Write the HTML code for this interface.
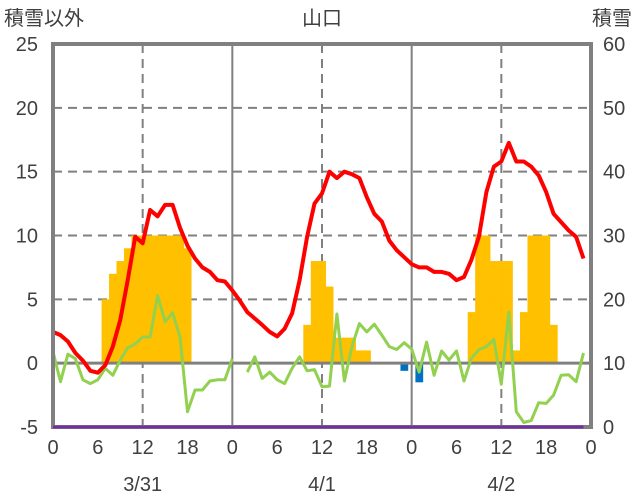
<!DOCTYPE html>
<html><head><meta charset="utf-8"><style>
html,body{margin:0;padding:0;background:#fff;}
svg{display:block;}
text{font-family:"Liberation Sans","Noto Sans CJK JP",sans-serif;fill:#404040;font-size:20px;}
</style></head><body>
<svg id="chart" width="636" height="501" viewBox="0 0 636 501" xmlns="http://www.w3.org/2000/svg">
<g id="grid"></g>
<g id="bars"></g>
<g id="lines"></g>
<g id="frame"></g>
<g id="labels">
<text x="4" y="25">積雪以外</text>
<text x="322" y="25" text-anchor="middle">山口</text>
<text x="632" y="25" text-anchor="end">積雪</text>
</g>
</svg>
<script>
const leftTicks=[-5,0,5,10,15,20,25];
const rightTicks=[0,10,20,30,40,50,60];
const hourTicks=["0","6","12","18","0","6","12","18","0","6","12","18","0"];
const dateLabels=["3/31","4/1","4/2"];
const barHours=[7,8,9,10,11,12,13,14,15,16,17,18,34,35,36,37,38,39,40,41,42,47,49,56,57,58,59,60,61,62,63,64,65,66,67];
const barValues=[5,7,8,9,10,10,10,10,10,10,10,9,3,8,8,6,2,2,2,1,1,-0.6,-1.5,4,10,10,8,8,8,1,4,10,10,10,3];
const redValues=[2.45,2.2,1.7,0.8,0.2,-0.6,-0.75,-0.15,1.3,3.4,6.5,9.9,9.4,12,11.5,12.4,12.4,10.6,9.2,8.2,7.5,7.15,6.5,6.4,
5.7,4.9,4.0,3.5,3.0,2.45,2.1,2.7,3.9,6.5,9.9,12.5,13.3,15.0,14.5,15.0,14.8,14.5,13.0,11.7,11.1,9.6,8.85,8.3,
7.75,7.5,7.5,7.15,7.15,7.0,6.5,6.75,8.1,9.9,13.4,15.4,15.8,17.25,15.8,15.8,15.4,14.7,13.4,11.7,11.05,10.4,9.9,8.2];
const greenValues=[0.9,-1.45,0.7,0.35,-1.3,-1.6,-1.3,-0.4,-0.95,0.25,1.2,1.5,2.05,2.05,5.3,3.25,3.95,2.05,-3.8,-2.1,-2.1,-1.4,-1.3,-1.3,
0.35,null,-0.7,0.5,-1.2,-0.7,-1.3,-1.6,-0.4,0.5,-0.6,-0.5,-1.85,-1.8,3.85,-1.4,1.3,3.1,2.45,3.05,2.2,1.3,1.07,1.6,
1.1,-0.7,1.65,-0.95,0.95,0.25,0.95,-1.4,0.4,1.05,1.3,1.85,-1.65,4.0,-3.8,-4.65,-4.5,-3.1,-3.15,-2.5,-0.95,-0.9,-1.45,0.8];
const snowDepth=[0,0,0,0,0,0,0,0,0,0,0,0,0,0,0,0,0,0,0,0,0,0,0,0,0,0,0,0,0,0,0,0,0,0,0,0,0,0,0,0,0,0,0,0,0,0,0,0,0,0,0,0,0,0,0,0,0,0,0,0,0,0,0,0,0,0,0,0,0,0,0,0];

const X0=53,X1=591,YT=44,YB=427;
const xs=h=>X0+(X1-X0)*h/72;
const yl=v=>YB-(YB-YT)*(v+5)/30;
const yr=v=>YB-(YB-YT)*v/60;
const NS="http://www.w3.org/2000/svg";
function mk(tag,parent,attrs){const e=document.createElementNS(NS,tag);for(const k in attrs)e.setAttribute(k,attrs[k]);parent.appendChild(e);return e;}
const grid=document.getElementById('grid'),bars=document.getElementById('bars'),lines=document.getElementById('lines'),frame=document.getElementById('frame'),labels=document.getElementById('labels');

leftTicks.forEach(v=>{
  if(v>-5&&v<25&&v!==0){const l=mk('line',grid,{x1:X0,x2:X1,y1:yl(v),y2:yl(v),stroke:'#808080','stroke-width':2,'stroke-dasharray':'9,6'});
  }
  const t=mk('text',labels,{x:38,y:yl(v)+7,'text-anchor':'end'});t.textContent=v;
  
});
rightTicks.forEach(v=>{const t=mk('text',labels,{x:603,y:yr(v)+7});t.textContent=v;
  });
[12,36,60].forEach(h=>{const l=mk('line',grid,{x1:xs(h),x2:xs(h),y1:YT,y2:YB,stroke:'#808080','stroke-width':2,'stroke-dasharray':'9,6'});
  });
[24,48].forEach(h=>{const l=mk('line',grid,{x1:xs(h),x2:xs(h),y1:YT,y2:YB,stroke:'#808080','stroke-width':2});
  });
hourTicks.forEach((s,i)=>{const t=mk('text',labels,{x:xs(i*6),y:454,'text-anchor':'middle'});t.textContent=s;
  });
dateLabels.forEach((s,i)=>{const t=mk('text',labels,{x:xs(12+24*i),y:491,'text-anchor':'middle'});t.textContent=s;
  });

barHours.forEach((h,i)=>{const v=barValues[i];const y0=yl(0),y1=yl(v);
  const r=mk('rect',bars,{x:xs(h-0.5),width:xs(1)-xs(0)+0.3,y:Math.min(y0,y1),height:Math.abs(y1-y0),fill:v>=0?'#FFC000':'#0070C0'});
  });

const z=mk('line',lines,{x1:X0,x2:X1,y1:yl(0),y2:yl(0),stroke:'#808080','stroke-width':3});


function path(vals,yf){let d='',pen=false;vals.forEach((v,i)=>{if(v===null){pen=false;return;}d+=(pen?'L':'M')+xs(i).toFixed(1)+','+yf(v).toFixed(1);pen=true;});return d;}
const g=mk('path',lines,{d:path(greenValues,yl),fill:'none',stroke:'#92D050','stroke-width':3,'stroke-linejoin':'round'});

const r=mk('path',lines,{d:path(redValues,yl),fill:'none',stroke:'#FF0000','stroke-width':4,'stroke-linejoin':'round'});


const fr=mk('rect',frame,{x:X0,y:YT,width:X1-X0,height:YB-YT,fill:'none',stroke:'#808080','stroke-width':4});

const p=mk('path',frame,{d:path(snowDepth,yr),fill:'none',stroke:'#7030A0','stroke-width':3});

</script>
</body></html>
